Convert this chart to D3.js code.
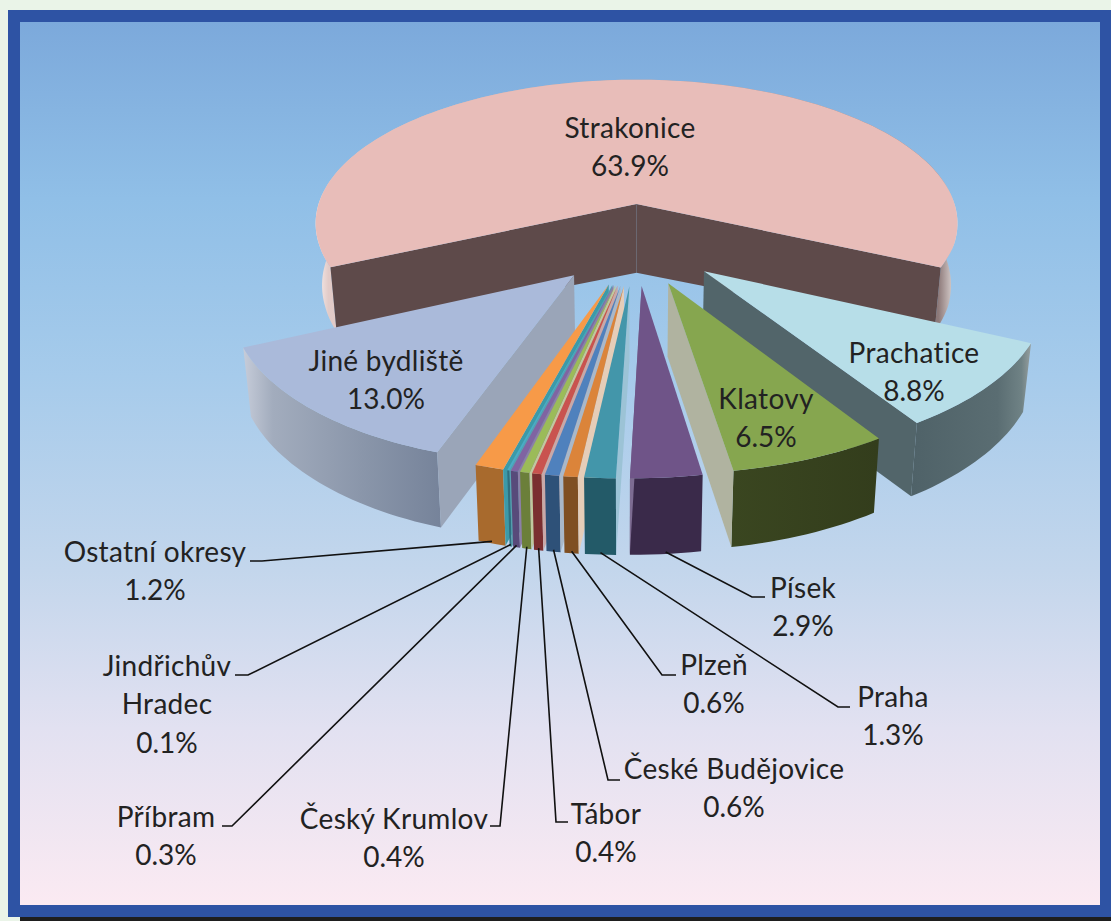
<!DOCTYPE html>
<html><head><meta charset="utf-8">
<style>html,body{margin:0;padding:0;background:#EAF4E8;overflow:hidden}svg{display:block}text{font-family:Lato,"Open Sans",sans-serif}</style>
<script src="https://cdn.jsdelivr.net/npm/d3@7"></script></head><body>
<svg id="c" width="1111" height="921"></svg>
<script>
// ---- data ----
const names=["Strakonice","Prachatice","Klatovy","Písek","Praha","Plzeň","České Budějovice","Tábor","Český Krumlov","Příbram","Jindřichův Hradec","Ostatní okresy","Jiné bydliště"];
const shares=[63.9,8.8,6.5,2.9,1.3,0.6,0.6,0.4,0.4,0.3,0.1,1.2,13.0];
const topColors=["#E8BDB9","#B7DEE8","#86A64F","#6F5488","#4396AA","#DB843A","#4F81BD","#C9534F","#9BBB59","#8064A2","#4BACC6","#F79A48","#AABADA"];
const rimStops=[
 [[0,"#FBF2F1"],[0.02,"#E2CBC8"],[0.97,"#8C7878"],[1,"#EDE8E6"]],
 [[0,"#4F6268"],[0.72,"#5A6D72"],[0.92,"#6F8285"],[1,"#969F9F"]],
 [[0,"#3A4620"],[1,"#333D1C"]],
 [[0,"#3A2A4A"],[1,"#3A2A4A"]],
 [[0,"#235A68"],[1,"#235A68"]],
 [[0,"#7F4F22"],[1,"#7F4F22"]],
 [[0,"#2E5178"],[1,"#2E5178"]],
 [[0,"#7A2E30"],[1,"#7A2E30"]],
 [[0,"#6B7F3A"],[1,"#6B7F3A"]],
 [[0,"#584A7A"],[1,"#584A7A"]],
 [[0,"#2E7080"],[1,"#2E7080"]],
 [[0,"#A86A2D"],[1,"#A86A2D"]],
 [[0,"#C6CCD9"],[0.15,"#A2ACBD"],[0.6,"#8A96AA"],[1,"#76839A"]]
];
const wallColors=["#5E4A4A","#52656A","#B0B3A0","#7D6C92","#9CC3D6","#E5CDB8","#A9B8C9","#C9A8A8","#C0C8A0","#8C7FA8","#58A0B0","#3C9AA8","#9AA5B8"];
const labelLines=[["Strakonice","63.9%"],["Prachatice","8.8%"],["Klatovy","6.5%"],["Písek","2.9%"],["Praha","1.3%"],["Plzeň","0.6%"],["České Budějovice","0.6%"],["Tábor","0.4%"],["Český Krumlov","0.4%"],["Příbram","0.3%"],["Jindřichův","Hradec","0.1%"],["Ostatní okresy","1.2%"],["Jiné bydliště","13.0%"]];
// ---- layout ----
const labelPos=[[630,128],[914,353],[766,399],[803,588],[893,697],[714,665],[734,769],[606,814],[394,819],[166,817],[167,666],[155,552],[386,361]];
// elbow of each leader: [outer end x, elbow x, y]; null = no leader
const leaderPos=[null,null,null,[765,752,597],[850,838,707],[676,662,675],[620,608,780],[568,556,822],[490,500,826],[222,232,826],[235,248,675],[250,262,561],null];
const P={cx:636.5,cy:243.6,Rx:330,Ty:152,k:0.14,e:0.27,h:63,skew:9,taper:0.98,leftTrim:0.02,apexDrop:8};
const DEG=Math.PI/180;

function proj(X,V,z){ // z: 0 top, 1 bottom
  const p=1/(1-P.k*V), c=P.cx-P.skew*Math.max(V,0);
  const trim=X<0?1-P.leftTrim*Math.max(V,0):1;
  let x=c+P.Rx*X*p*trim, y=P.cy+P.Ty*V*p;
  if(z){x=c+(x-c)*P.taper; y+=P.h*p;}
  return [x,y];
}
const pie=d3.pie().sort(null).value(d=>d).startAngle(-115*DEG).endAngle(245*DEG);
const arcs=pie(shares).map((a,i)=>{
  const mid=(a.startAngle+a.endAngle)/2;
  return {i,a0:a.startAngle,a1:a.endAngle,mid,dx:P.e*Math.sin(mid),dv:-P.e*Math.cos(mid)};
});
const apex=(s,z)=>{const q=proj(s.dx,s.dv,z);if(z)q[1]+=P.apexDrop;return q;};
const rimPt=(s,t,z)=>proj(s.dx+Math.sin(t),s.dv-Math.cos(t),z);
const samples=s=>{const n=Math.max(2,Math.ceil((s.a1-s.a0)/(1.5*DEG)));return d3.range(n+1).map(j=>s.a0+(s.a1-s.a0)*j/n);};
const line=d3.line().curve(d3.curveLinear);

const svg=d3.select("#c");
const defs=svg.append("defs");
const bg=defs.append("linearGradient").attr("id","bg").attr("x1",0).attr("y1",0).attr("x2",0).attr("y2",1);
[[0,"#7CA9DB"],[0.2,"#90BFE7"],[0.4,"#A6CBEB"],[0.62,"#C3D6EC"],[0.8,"#E2E1F1"],[1,"#FBEAF2"]].forEach(d=>bg.append("stop").attr("offset",d[0]).attr("stop-color",d[1]));
svg.append("rect").attr("x",8).attr("y",10).attr("width",1103).attr("height",907).attr("fill","#2E53A4");
svg.append("rect").attr("x",0).attr("y",917).attr("width",1111).attr("height",4).attr("fill","#1E1E1E");
svg.append("rect").attr("x",0).attr("y",917).attr("width",20).attr("height",4).attr("fill","#EAF4E8");
svg.append("rect").attr("x",20).attr("y",22).attr("width",1080).attr("height",883).attr("fill","url(#bg)");

// slices painted back to front
const order=arcs.slice().sort((a,b)=>a.dv-b.dv);
const gS=svg.append("g");
order.forEach(s=>{
  const g=gS.append("g");
  const id="rim"+s.i;
  const lg=defs.append("linearGradient").attr("id",id).attr("x1",0).attr("y1",0).attr("x2",1).attr("y2",0);
  rimStops[s.i].forEach(d=>lg.append("stop").attr("offset",d[0]).attr("stop-color",d[1]));
  const ts=samples(s);
  const band=ts.map(t=>rimPt(s,t,0)).concat(ts.slice().reverse().map(t=>rimPt(s,t,1)));
  g.append("path").attr("d",line(band)+"Z").attr("fill",`url(#${id})`);
  const wall=t=>line([apex(s,0),rimPt(s,t,0),rimPt(s,t,1),apex(s,1)])+"Z";
  const edges=s.i===0?[s.a0,s.a1]:(Math.sin(s.mid)>0?[s.a1]:[s.a0]);
  edges.forEach(t=>g.append("path").attr("d",wall(t)).attr("fill",wallColors[s.i]));
  const topPts=[apex(s,0)].concat(ts.map(t=>rimPt(s,t,0)));
  g.append("path").attr("d",line(topPts)+"Z").attr("fill",topColors[s.i]);
});

// leaders
const gL=svg.append("g").attr("fill","none").attr("stroke","#111").attr("stroke-width",1.6);
arcs.forEach(s=>{
  const lp=leaderPos[s.i]; if(!lp) return;
  const anchor=rimPt(s,s.mid,1);
  gL.append("path").attr("d",line([[lp[0],lp[2]],[lp[1],lp[2]],[anchor[0],anchor[1]-2]]));
});

// labels
arcs.forEach(s=>{
  const [x,y]=labelPos[s.i];
  const t=svg.append("text").attr("text-anchor","middle").attr("font-size",28).attr("fill","#222");
  labelLines[s.i].forEach((ln,j)=>t.append("tspan").attr("x",x).attr("y",y+10+j*38.3)
    .attr("letter-spacing",ln.endsWith("%")?0:0.3).text(ln));
});
</script></body></html>
